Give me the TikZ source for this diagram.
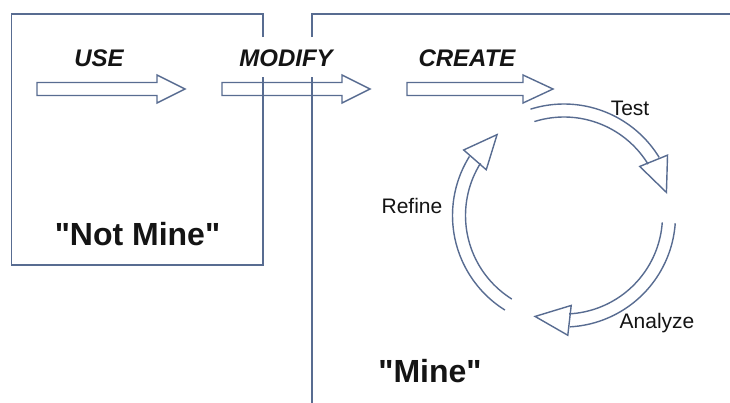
\documentclass[tikz,border=0pt]{standalone}
\usepackage{fontspec}
\setmainfont{Liberation Sans}[Ligatures=TeXOff]
\usetikzlibrary{calc}
\definecolor{ln}{RGB}{88,108,145}
\definecolor{txt}{RGB}{20,20,20}
\tikzset{
  boxline/.style={draw=ln, line width=1.4pt},
  arrline/.style={draw=ln, line width=1.4pt, line join=miter},
  stagelbl/.style={inner sep=0pt, anchor=base, text=txt, font=\fontsize{24}{24}\selectfont\bfseries\itshape},
  ownlbl/.style={inner sep=0pt, anchor=base, text=txt, font=\fontsize{32}{32}\selectfont\bfseries},
  steplbl/.style={inner sep=0pt, anchor=base, text=txt, font=\fontsize{21}{21}\selectfont}
}
\newcommand\myblockarrow[5]{% name, x0, xbase, xtip, ycenter
  \coordinate (#1tip) at (#4,#5);
  \draw[arrline] (#2,#5-6.5) -- (#3,#5-6.5) -- (#3,#5-14) -- (#1tip)
     -- (#3,#5+14) -- (#3,#5+6.5) -- (#2,#5+6.5) -- cycle;}
\newcommand\mycyclearrow[4]{% name, start, base, tip
  \draw[arrline] plot[domain=#2:#3, samples=40, smooth] ({564+98.5*cos(\x)},{215.5-98.5*sin(\x)});
  \draw[arrline] plot[domain=#2:#3, samples=40, smooth] ({564+111.5*cos(\x)},{215.5-111.5*sin(\x)});
  \coordinate (#1b) at ({564+105*cos(#3)},{215.5-105*sin(#3)});
  \coordinate (#1t) at ({564+105*cos(#4)},{215.5-105*sin(#4)});
  \draw[arrline] ($(#1b)!15pt!90:(#1t)$) -- (#1t) -- ($(#1b)!15pt!-90:(#1t)$) -- cycle;}
\begin{document}
\begin{tikzpicture}[x=1pt,y=-1pt]
\useasboundingbox (0,0) rectangle (730,402);
\fill[white] (0,0) rectangle (730,402);
% boxes
\draw[boxline] (263,37) -- (263,14) -- (11.5,14) -- (11.5,265) -- (263,265) -- (263,77);
\draw[boxline] (312,37) -- (312,14) -- (732,14);
\draw[boxline] (312,77) -- (312,404);
% straight arrows
\myblockarrow{use}{37}{157}{185}{89}
\myblockarrow{mod}{222}{342}{370}{89}
\myblockarrow{cre}{407}{523}{553}{89}
% labels
\node[stagelbl] (uselbl) at (99,66) {USE};
\node[stagelbl] (modlbl) at (286,66) {MODIFY};
\node[stagelbl] (crelbl) at (467,66) {CREATE};
\node[ownlbl] (notmine) at (137.5,245) {"Not Mine"};
\node[ownlbl] (mine) at (430,382) {"Mine"};
% cycle
\mycyclearrow{test}{107.5}{31.4}{12.7}
\mycyclearrow{anal}{-4}{-87}{-106}
\mycyclearrow{ref}{-122}{-212}{-230.4}
\node[steplbl] (testlbl) at (630,115) {Test};
\node[steplbl] (refinelbl) at (412,213) {Refine};
\node[steplbl] (analyzelbl) at (657,328) {Analyze};
\end{tikzpicture}
\end{document}
